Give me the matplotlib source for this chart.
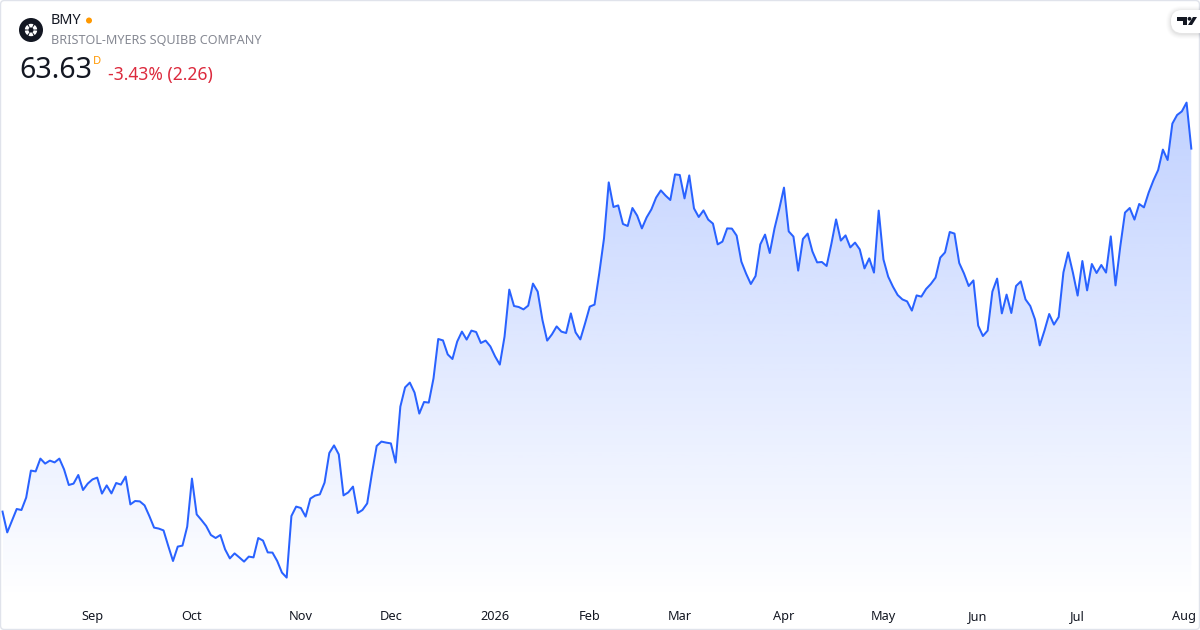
import numpy as np
import matplotlib
matplotlib.use("Agg")
import matplotlib.pyplot as plt
from matplotlib.patches import Circle, FancyBboxPatch, Polygon, Wedge

plt.rcParams['font.family'] = ['Noto Sans', 'DejaVu Sans']

# daily close
closes = [
    45.48, 44.44, 45.03, 45.61, 45.56, 46.18, 47.53, 47.49, 48.13, 47.88,
    48.03, 47.94, 48.13, 47.59, 46.81, 46.88, 47.31, 46.56, 46.88, 47.09,
    47.18, 46.38, 46.79, 46.39, 46.91, 46.83, 47.23, 45.84, 46.01, 45.99,
    45.79, 45.26, 44.68, 44.63, 44.54, 43.76, 43.01, 43.73, 43.78, 44.73,
    47.13, 45.34, 45.06, 44.76, 44.31, 44.16, 44.31, 43.59, 43.14, 43.39,
    43.19, 42.98, 43.23, 43.19, 44.16, 44.03, 43.44, 43.43, 43.01, 42.43,
    42.18, 45.26, 45.73, 45.66, 45.23, 46.13, 46.28, 46.34, 46.93, 48.41,
    48.79, 48.34, 46.29, 46.44, 46.73, 45.41, 45.56, 45.89, 47.39, 48.76,
    48.98, 48.93, 48.89, 47.93, 50.73, 51.69, 51.93, 51.43, 50.38, 50.96,
    50.93, 52.14, 54.11, 54.04, 53.34, 53.11, 53.98, 54.48, 54.08, 54.53,
    54.46, 53.91, 54.03, 53.74, 53.24, 52.83, 54.23, 56.58, 55.76, 55.71,
    55.59, 55.78, 56.88, 56.48, 55.06, 54.03, 54.34, 54.74, 54.48, 54.41,
    55.39, 54.44, 54.09, 54.89, 55.73, 55.83, 57.40, 59.14, 61.94, 60.71,
    60.79, 59.86, 59.76, 60.66, 60.28, 59.64, 60.19, 60.59, 61.18, 61.54,
    61.28, 61.06, 62.34, 62.31, 61.14, 62.29, 60.64, 60.21, 60.54, 60.08,
    59.88, 58.84, 58.98, 59.64, 59.63, 59.28, 57.98, 57.38, 56.86, 57.26,
    58.84, 59.33, 58.41, 59.64, 60.61, 61.68, 59.49, 59.23, 57.53, 59.11,
    59.38, 58.49, 57.94, 57.96, 57.76, 58.86, 60.09, 59.03, 59.29, 58.69,
    58.93, 58.59, 57.64, 58.14, 57.43, 60.53, 58.09, 57.23, 56.73, 56.31,
    56.09, 55.99, 55.53, 56.29, 56.23, 56.61, 56.86, 57.18, 58.18, 58.44,
    59.46, 59.38, 57.91, 57.39, 56.76, 57.04, 54.78, 54.26, 54.53, 56.48,
    57.13, 55.39, 56.33, 55.41, 56.76, 56.99, 56.09, 55.76, 55.09, 53.79,
    54.53, 55.36, 54.83, 55.21, 57.44, 58.44, 57.43, 56.28, 58.01, 56.54,
    57.86, 57.41, 57.81, 57.43, 59.24, 56.79, 58.73, 60.43, 60.66, 60.08,
    60.86, 60.69, 61.43, 62.04, 62.56, 63.58, 63.06, 64.88, 65.31, 65.49,
    65.93, 63.63,
]
tick_days = [19, 40, 63, 82, 104, 124, 143, 165, 186, 206, 227, 249.5]
tick_labels = ["Sep", "Oct", "Nov", "Dec", "2026", "Feb", "Mar", "Apr", "May", "Jun", "Jul", "Aug"]

days = np.arange(len(closes))
closes = np.array(closes)
step = (1191.3 - 2.5) / (len(closes) - 1)

fig = plt.figure(figsize=(12, 6.3), dpi=100, facecolor="white")

# price pane, 20 pixels to the dollar
ax = fig.add_axes([0, 30 / 630, 1, 600 / 630])
ax.set_xlim(-2.5 / step, (1200 - 2.5) / step)
ax.set_ylim(41.06, 71.06)
for s in ax.spines.values():
    s.set_visible(False)
ax.set_yticks([])

# area under the line, fades to white at the bottom
area = ax.fill_between(days, closes, 41.06, color="none")
fade = np.zeros((256, 1, 4))
fade[..., 0] = 41 / 255
fade[..., 1] = 98 / 255
fade[..., 2] = 1.0
fade[:, 0, 3] = np.linspace(0.29, 0.0, 256)
img = ax.imshow(fade, extent=[days[0], days[-1], 41.06, closes.max()],
                aspect="auto", origin="upper", zorder=1)
img.set_clip_path(area.get_paths()[0], transform=ax.transData)
ax.set_xlim(-2.5 / step, (1200 - 2.5) / step)
ax.set_ylim(41.06, 71.06)

ax.plot(days, closes, color="#2962ff", linewidth=1.45, zorder=2)

ax.set_xticks(tick_days)
ax.set_xticklabels(tick_labels, fontsize=9.2, color="#131722")
ax.tick_params(axis="x", length=0, pad=7)
ax.get_xticklabels()[4].set_fontweight("bold")

# header, logos and border are drawn in pixel coordinates on top
top = fig.add_axes([0, 0, 1, 1])
top.set_xlim(0, 1200)
top.set_ylim(630, 0)
top.axis("off")
top.patch.set_alpha(0)

top.add_patch(FancyBboxPatch((0.5, 0.5), 1199, 629, boxstyle="round,pad=0,rounding_size=4",
                             fc="none", ec="#e0e3eb", lw=1))

# company logo
top.add_patch(Circle((31, 30), 12, fc="#131722", ec="none"))
for a in range(0, 360, 60):
    top.add_patch(Wedge((31, 30), 6.2, a + 6, a + 54, width=3.6, fc="white", ec="none"))

top.text(51, 21, "BMY", fontsize=10.4, fontweight="bold", color="#131722", va="center")
top.add_patch(Circle((89, 20.5), 3, fc="#ff9800", ec="none"))
top.text(51, 40.5, "BRISTOL-MYERS SQUIBB COMPANY", fontsize=9.1, color="#868993", va="center")
top.text(19, 71, "63.63", fontsize=20.5, fontweight="bold", color="#131722", va="center")
top.text(93, 61.5, "D", fontsize=8, fontweight="bold", color="#ff9800", va="center")
top.text(108, 75, "-3.43% (2.26)", fontsize=12.6, color="#dc2a3d", va="center")

# tradingview badge, soft shadow then white pill
for grow, alpha in [(5, 0.012), (4, 0.016), (3, 0.02), (2, 0.025), (1, 0.03)]:
    top.add_patch(FancyBboxPatch((1171 - grow, 10 - grow + 1), 60 + grow, 23 + 2 * grow,
                                 boxstyle="round,pad=0,rounding_size=%d" % (11 + grow),
                                 fc="black", alpha=alpha, ec="none", clip_on=True))
top.add_patch(FancyBboxPatch((1171, 10), 60, 23, boxstyle="round,pad=0,rounding_size=11",
                             fc="white", ec="none"))
top.add_patch(Polygon([(1177, 17), (1187, 17), (1187, 25), (1183, 25), (1183, 21), (1177, 21)],
                      fc="#131722", ec="none"))
top.add_patch(Circle((1189.5, 18.8), 1.9, fc="#131722", ec="none"))
top.add_patch(Polygon([(1193, 17), (1197, 17), (1192, 25), (1188, 25)], fc="#131722", ec="none"))

fig.savefig("out.png", dpi=100)
